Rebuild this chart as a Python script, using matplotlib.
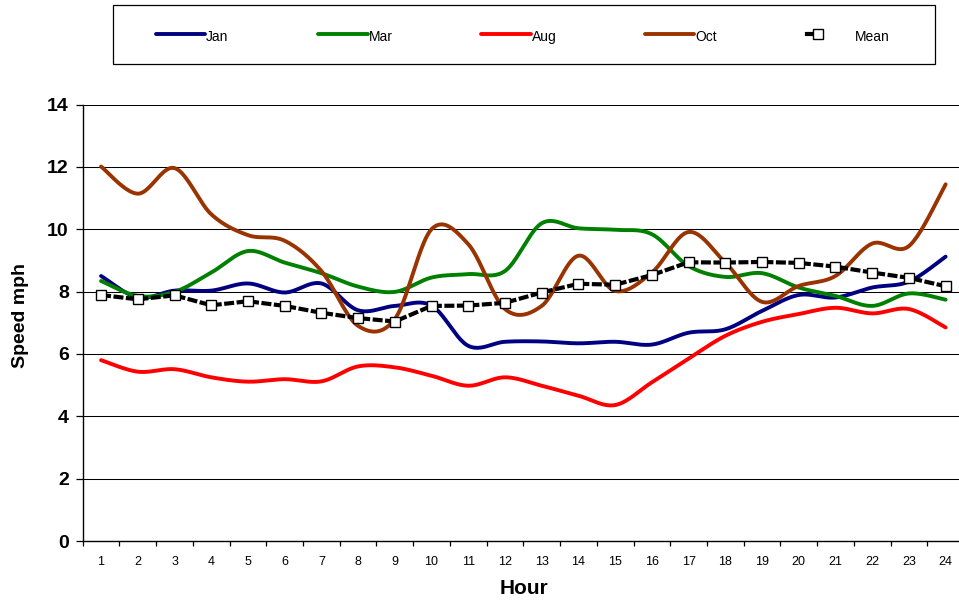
import numpy as np
import matplotlib
matplotlib.use("Agg")
import matplotlib.pyplot as plt
from matplotlib.lines import Line2D
from matplotlib.patches import Rectangle

plt.rcParams['font.family'] = ['Liberation Sans', 'DejaVu Sans']

hours = list(range(1, 25))
jan = [8.50, 7.81, 8.03, 8.03, 8.26, 7.97, 8.26, 7.40, 7.54, 7.55, 6.26, 6.39,
       6.40, 6.34, 6.39, 6.30, 6.68, 6.79, 7.38, 7.89, 7.81, 8.13, 8.32, 9.12]
mar = [8.34, 7.86, 7.99, 8.61, 9.30, 8.93, 8.59, 8.16, 7.99, 8.45, 8.56, 8.66,
       10.19, 10.03, 9.98, 9.84, 8.82, 8.47, 8.59, 8.13, 7.86, 7.54, 7.94, 7.74]
aug = [5.80, 5.43, 5.51, 5.25, 5.11, 5.19, 5.12, 5.60, 5.57, 5.30, 4.98, 5.25,
       4.98, 4.66, 4.36, 5.09, 5.85, 6.58, 7.03, 7.28, 7.48, 7.30, 7.44, 6.85]
oct_ = [12.01, 11.14, 11.96, 10.48, 9.81, 9.63, 8.66, 6.90, 7.12, 10.00, 9.52, 7.44,
        7.54, 9.15, 8.02, 8.61, 9.91, 8.93, 7.67, 8.18, 8.50, 9.54, 9.46, 11.44]
mean = [7.89, 7.75, 7.88, 7.56, 7.69, 7.54, 7.32, 7.15, 7.04, 7.54, 7.55, 7.64,
        7.97, 8.25, 8.22, 8.53, 8.94, 8.93, 8.95, 8.92, 8.80, 8.61, 8.44, 8.17]

series_names = ['Jan', 'Mar', 'Aug', 'Oct']
series_vals = [jan, mar, aug, oct_]
series_colors = ['#000080', '#008000', '#FF0000', '#993300']
yticks = list(range(0, 15, 2))


def smooth(x, y, n=24):
    pts = np.column_stack([x, y]).astype(float)
    P = np.vstack([pts[0], pts, pts[-1]])
    out = []
    t = np.linspace(0, 1, n, endpoint=False)[:, None]
    for i in range(1, len(P) - 2):
        p0, p1, p2, p3 = P[i - 1], P[i], P[i + 1], P[i + 2]
        seg = 0.5 * ((2 * p1) + (-p0 + p2) * t + (2 * p0 - 5 * p1 + 4 * p2 - p3) * t ** 2
                     + (-p0 + 3 * p1 - 3 * p2 + p3) * t ** 3)
        out.append(seg)
    out.append(pts[-1:])
    c = np.vstack(out)
    return c[:, 0], c[:, 1]


W, H = 959, 602
fig = plt.figure(figsize=(W / 100, H / 100), dpi=100)
x0, x1, ytop, ybot = 82.7, 964.0, 104.5, 541.0
ax = fig.add_axes([x0 / W, (H - ybot) / H, (x1 - x0) / W, (ybot - ytop) / H])

for vals, col in zip(series_vals, series_colors):
    sx, sy = smooth(hours, vals)
    ax.plot(sx, sy, color=col, lw=2.8, solid_capstyle='round', zorder=3)

ax.plot(hours, mean, color='black', lw=3.0, dashes=(2.4, 0.6), zorder=4,
        marker='s', markersize=7, markerfacecolor='white', markeredgecolor='black',
        markeredgewidth=1.0)

ax.set_xlim(0.5, 24.5)
ax.set_ylim(0, 14)
ax.set_yticks(yticks)
ax.set_yticklabels([str(v) for v in yticks], fontsize=14, fontweight='bold')
ax.set_xticks(hours)
ax.set_xticklabels([str(h) for h in hours], fontsize=9)
ax.set_xticks(np.arange(0.5, 25, 1), minor=True)
ax.tick_params(axis='x', which='major', length=0, pad=11)
ax.tick_params(axis='x', which='minor', length=3.5, width=0.9, direction='out')
ax.tick_params(axis='y', which='major', length=5, width=0.9, direction='out', pad=5)
ax.grid(axis='y', color='black', lw=0.75)
ax.set_axisbelow(True)
for s in ['top', 'right']:
    ax.spines[s].set_visible(False)
for s in ['left', 'bottom']:
    ax.spines[s].set_linewidth(1.0)

fig.text(21 / W, 1 - 315 / H, 'Speed mph', rotation=90, ha='center', va='center',
         fontsize=14, fontweight='bold')
fig.text(524 / W, 1 - 588 / H, 'Hour', ha='center', va='center',
         fontsize=15, fontweight='bold')

# legend box
fig.patches.append(Rectangle((113 / W, 1 - 64 / H), (935 - 113) / W, (64 - 5) / H,
                             transform=fig.transFigure, fill=False, edgecolor='black',
                             lw=0.9))
ly = 1 - 34 / H
ty = 1 - 37 / H
leg_x = [(156, 205), (318, 368), (481, 531), (645, 694)]
for (a, b), name, col in zip(leg_x, series_names, series_colors):
    fig.lines.append(Line2D([a / W, b / W], [ly, ly], transform=fig.transFigure,
                            color=col, lw=2.8, solid_capstyle='round'))
    fig.text((b + 1) / W, ty, name, ha='left', va='center', fontsize=10)
fig.lines.append(Line2D([807 / W, 818 / W], [ly, ly], transform=fig.transFigure,
                        color='black', lw=3.0))
fig.lines.append(Line2D([818 / W], [ly], transform=fig.transFigure, color='black',
                        marker='s', markersize=7, markerfacecolor='white',
                        markeredgecolor='black', markeredgewidth=1.0))
fig.text(855 / W, ty, 'Mean', ha='left', va='center', fontsize=10)

fig.savefig('out.png', dpi=100)
